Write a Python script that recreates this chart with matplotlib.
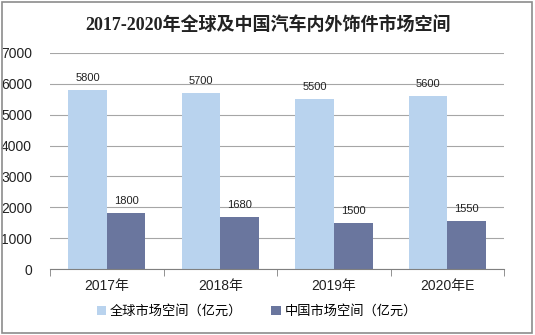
import matplotlib
matplotlib.use("Agg")
import matplotlib.pyplot as plt
from matplotlib.patches import Rectangle
import numpy as np

plt.rcParams['font.family'] = ['Liberation Sans', 'Noto Sans CJK SC', 'DejaVu Sans']

years = ['2017年', '2018年', '2019年', '2020年E']
global_vals = [5800, 5700, 5500, 5600]
china_vals = [1800, 1680, 1500, 1550]
labels = ['全球市场空间（亿元）', '中国市场空间（亿元）']

c_light = '#B9D3EE'
c_dark = '#6A769E'

fig = plt.figure(figsize=(5.35, 3.35), dpi=100)
fig.patches.append(Rectangle((0.004, 0.006), 0.991, 0.988, transform=fig.transFigure,
                             fill=False, edgecolor='#8c8c8c', linewidth=1.2))
ax = fig.add_axes([0.0935, 0.197, 0.849, 0.645])

x = np.arange(len(years))
w = 0.34
b1 = ax.bar(x - w/2, global_vals, w, color=c_light, label=labels[0], zorder=2)
b2 = ax.bar(x + w/2, china_vals, w, color=c_dark, label=labels[1], zorder=2)

for bars, vals in ((b1, global_vals), (b2, china_vals)):
    for r, v in zip(bars, vals):
        ax.text(r.get_x() + r.get_width()/2, v + 230, str(v), ha='center', va='bottom',
                fontsize=8, color='#222222')

ax.set_xlim(-0.5, 3.5)
ax.set_ylim(0, 7000)
ax.set_yticks(range(0, 7001, 1000))
ax.yaxis.grid(True, color='#a6a6a6', linewidth=0.8, zorder=0)
ax.set_axisbelow(True)
for s in ['top', 'right', 'left']:
    ax.spines[s].set_visible(False)
ax.spines['bottom'].set_color('#808080')
ax.tick_params(axis='y', length=0, labelsize=10, pad=13, colors='#222222')
ax.set_xticks(x)
ax.set_xticklabels(years, fontsize=10, color='#222222')
ax.tick_params(axis='x', length=0, pad=7)
ax.set_xticks(np.arange(-0.5, 4, 1), minor=True)
ax.tick_params(axis='x', which='minor', length=5, color='#808080', direction='out')

fig.text(0.5, 0.925, '2017-2020年全球及中国汽车内外饰件市场空间', ha='center', va='center',
         fontsize=13, fontweight='bold', color='#222222',
         family=['Liberation Serif', 'Noto Sans CJK SC'])

fig.legend(handles=[b1, b2], labels=labels, loc='center', bbox_to_anchor=(0.48, 0.07),
           ncol=2, frameon=False, fontsize=9.5, handlelength=0.7, handleheight=0.7,
           columnspacing=2.2, handletextpad=0.3)

fig.savefig('out.png', dpi=100)
